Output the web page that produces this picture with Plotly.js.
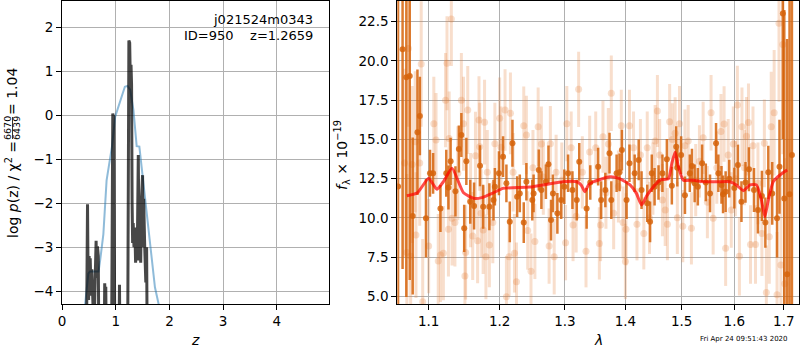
<!DOCTYPE html>
<html><head><meta charset="utf-8">
<script src="https://cdn.plot.ly/plotly-3.0.1.min.js"></script>
<style>body{margin:0;padding:0;background:#fff}#c{width:800px;height:350px}</style>
</head><body><div id="c"></div>
<script>
// ---- left panel: redshift PDF ----
const zPrior = [0.43,0.49,0.52,0.60,0.68,0.71,0.77,0.83,0.93,0.99,1.05,1.11,1.17,1.22,1.27,1.33,1.39,1.44,1.48,1.55,1.61,1.67,1.73,1.80];
const logpPrior = [-4.3,-3.6,-3.55,-3.55,-3.55,-3.3,-2.7,-1.48,-0.71,-0.03,0.2,0.43,0.65,0.67,0.58,0.12,-0.7,-0.71,-1.17,-1.93,-2.69,-3.38,-3.91,-4.3];

const zFit = [0.45,0.475,0.485,0.495,0.505,0.515,0.525,0.54,0.555,0.57,0.595,0.62,0.635,0.645,0.66,0.675,0.69,0.78,0.795,0.805,0.815,0.83,0.92,0.945,0.955,0.965,0.985,1.055,1.07,1.085,1.22,1.245,1.26,1.27,1.285,1.295,1.305,1.315,1.325,1.34,1.355,1.37,1.385,1.40,1.42,1.435,1.45,1.465,1.48,1.50,1.51,1.52,1.54,1.56,1.575,1.59];
const logpFit = [-6,-2.02,-3.6,-4.2,-3.2,-4.1,-3.25,-4.0,-3.5,-4.35,-5,-3.6,-2.85,-3.7,-2.98,-3.2,-6,-6,-3.82,-4.2,-3.9,-6,-6,0.04,-0.02,0.0,-6,-6,-3.85,-6,-6,1.7,1.65,0.9,1.15,0.7,-2.0,-2.9,-2.45,-3.0,-2.55,-3.35,-2.8,-3.3,-0.9,-3.3,-2.2,-3.35,-1.9,-1.36,-3.0,-1.9,-3.0,-3.8,-3.0,-6];

// ---- right panel: spectrum ----
const lamDark = [1.0595,1.0654,1.0703,1.0748,1.0787,1.085,1.0882,1.0964,
1.1018,1.106,1.116,1.124,1.127,1.130,1.1367,1.1415,1.145,1.149,1.152,1.1575,1.163,1.1715,1.176,1.185,1.191,1.193,1.199,1.205,1.21,1.215,1.219,1.226,1.230,1.236,1.240,1.249,1.251,1.259,1.263,1.27,1.274,1.278,1.281,1.288,1.294,1.299,
1.305,1.312,1.319,1.323,1.335,1.341,1.354,1.359,1.366,1.373,1.376,1.385,1.390,1.394,1.402,1.407,1.416,1.423,1.428,1.438,1.443,1.446,1.451,1.458,1.465,1.473,1.482,1.490,1.492,1.499,1.506,1.515,1.519,1.524,1.530,1.538,1.545,1.553,1.5645,1.569,1.575,1.578,1.583,1.590,1.600,1.607,1.614,1.622,1.629,1.639,1.647,1.655,1.662,1.668,1.676,1.686,1.691,1.698,1.701,1.707,1.712,1.717];
const fluxDark = [12.0,20.74,18.96,19.04,10.12,15.45,16.49,9.97,
12.84,12.84,10.6,12.84,11.94,13.6,11.69,14.39,15.28,9.33,13.6,11.03,10.75,13.32,10.71,10.71,11.13,11.98,12.84,13.9,12.2,9.75,14.75,11.35,11.56,9.7,12.3,11.13,11.56,13.05,11.77,12.3,13.41,9.86,11.56,10.29,11.13,11.98,
12.84,11.77,11.13,13.57,10.6,12.26,13.26,11.13,11.77,14.12,11.13,12.84,12.9,14.32,11.13,13.48,12.84,13.69,11.77,10.93,9.75,12.84,11.98,12.26,12.84,13.73,12.05,14.53,13.2,14.0,11.44,12.84,13.3,12.2,11.98,13.48,12.26,11.56,14.75,12.84,12.1,11.5,11.67,12.5,11.9,13.37,11.03,12.26,13.1,11.77,10.5,11.4,9.7,12.9,11.56,9.97,13.26,23.03,11.24,6.4,11.5,14.0];
const errDark = [16,14,14,13,5,4,2.5,2.5,
1.5,1.3,1.5,1.5,1.4,1.5,1.6,1.5,1.4,1.5,1.5,1.4,1.5,1.3,1.4,1.5,1.3,1.2,1.4,1.3,1.2,1.3,1.5,1.3,1.2,1.3,1.2,1.3,1.2,1.3,1.2,1.1,1.2,1.3,1.2,1.3,1.2,1.1,
1.2,1.2,1.3,1.2,1.3,1.1,1.2,1.2,1.1,1.3,1.2,1.2,1.2,1.3,1.2,1.2,1.2,1.3,1.2,1.2,1.3,1.2,1.2,1.1,1.2,1.3,1.2,1.3,1.2,1.2,1.2,1.2,1.1,1.2,1.2,1.2,1.2,1.2,1.3,1.2,1.2,1.2,1.3,1.2,1.3,1.3,1.3,1.3,1.4,1.4,1.5,1.6,1.6,1.7,2.0,2.5,3.0,8,12,15,15,15];

const lamLight = [1.068,1.071,1.073,1.076,1.078,1.082,1.083,1.088,1.090,1.092,1.100,1.107,1.110,1.113,1.116,1.120,1.123,1.125,1.127,1.128,1.131,1.132,1.136,1.140,1.145,1.148,1.150,1.151,1.154,1.158,1.161,1.165,1.168,1.170,1.171,1.173,1.176,1.178,1.180,1.182,1.185,1.190,1.193,1.200,1.202,1.208,1.210,1.214,1.216,1.220,1.222,1.225,1.236,1.240,1.242,1.247,1.250,1.253,1.258,1.263,1.266,1.275,1.277,1.283,1.286,1.295,
1.301,1.303,1.310,1.313,1.318,1.322,1.328,1.334,1.340,1.350,1.356,1.358,1.362,1.367,1.371,1.376,1.380,1.388,1.393,1.396,1.400,1.401,1.407,1.414,1.420,1.426,1.432,1.438,1.442,1.448,1.452,1.456,1.460,1.465,1.470,1.474,1.478,1.483,1.488,1.492,1.496,1.502,1.506,1.512,1.518,1.526,1.533,1.540,1.548,1.555,1.559,1.566,1.574,1.580,1.583,1.588,1.594,1.598,1.602,1.606,1.610,1.615,1.620,1.624,1.628,1.632,1.637,1.642,1.647,1.655,1.660,1.664,1.670,1.674,1.680,1.686,1.690,1.694,1.698,1.702];
const fluxLight = [13.5,7.8,20.8,7.55,13.4,14.85,8.9,13.5,19.8,4.65,8.2,16.0,14.96,7.25,7.63,7.75,17.5,19.85,9.27,15.06,22.67,9.97,9.7,12.84,17.5,16.0,6.3,7.8,16.87,11.13,8.84,13.96,8.54,16.23,14.53,10.3,9.22,16.1,7.52,12.9,8.27,9.7,14.73,16.34,14.5,16.87,4.97,7.52,16.66,12.9,7.74,5.93,15.87,15.28,9.2,6.6,13.2,8.5,15.81,14.7,12.6,8.2,14.73,7.52,12.9,12.4,
8.42,16.0,14.47,9.54,10.1,18.19,12.9,7.87,14.2,14.47,8.37,9.54,15.17,11.6,14.7,17.94,10.3,12.0,15.87,9.7,7.22,9.27,15.87,14.47,9.59,14.0,9.01,14.47,10.0,12.5,14.9,16.81,14.0,11.13,10.5,9.6,16.13,15.0,15.39,10.0,16.0,9.47,14.6,14.9,9.33,12.4,13.6,15.1,11.0,16.7,9.97,13.2,15.5,15.98,8.06,14.0,10.5,14.7,12.5,17.2,7.55,15.8,13.2,15.2,16.07,8.3,14.6,8.3,12.2,9.0,14.75,5.24,8.8,15.81,16.7,5.1,22.4,7.0,21.05,5.8];
const errLight = [6,5,5,5,5,4.5,4,4,4,4,3,3,3,3,3,3,3,3,3,3,3,3,2.8,3,3,3,3,3,2.8,3,2.8,2.8,2.7,2.8,2.8,2.8,2.8,2.7,2.7,2.7,2.7,2.6,2.6,2.6,2.6,2.6,2.6,2.5,2.6,2.5,2.5,2.5,2.5,2.5,2.5,2.4,2.4,2.4,2.5,2.4,2.4,2.4,2.4,2.4,2.4,2.4,
2.4,2.4,2.3,2.3,2.3,2.4,2.3,2.3,2.3,2.3,2.3,2.3,2.3,2.3,2.3,2.4,2.3,2.3,2.3,2.3,2.4,2.3,2.3,2.3,2.3,2.3,2.3,2.3,2.3,2.3,2.3,2.3,2.3,2.3,2.3,2.3,2.4,2.3,2.3,2.3,2.4,2.3,2.3,2.3,2.3,2.3,2.3,2.3,2.3,2.4,2.3,2.3,2.4,2.4,2.4,2.3,2.4,2.4,2.4,2.5,2.5,2.5,2.4,2.5,2.5,2.5,2.5,2.5,2.6,2.7,2.8,3,3,3.5,4,4,5,6,7,8];

const lamModel = [1.071,1.085,1.100,1.111,1.120,1.132,1.148,1.163,1.174,1.191,1.205,1.245,1.297,1.319,1.326,1.332,1.338,1.346,1.374,1.390,1.408,1.419,1.428,1.437,1.449,1.461,1.476,1.482,1.488,1.494,1.503,1.522,1.540,1.570,1.591,1.604,1.618,1.631,1.644,1.654,1.661,1.668,1.678,1.692,1.707];
const fluxModel = [11.41,11.6,12.52,11.82,12.3,13.16,11.6,11.24,11.29,11.6,11.88,11.96,12.3,12.3,12.1,11.67,12.1,12.3,12.62,12.5,12.1,11.56,10.82,11.4,11.98,12.4,12.5,13.48,14.2,13.26,12.4,12.4,12.3,12.3,12.3,12.1,11.73,12.1,12.1,11.13,10.07,11.13,12.3,12.73,13.05];

const zTicks = [0,1,2,3,4];
const logpTicks = [-4,-3,-2,-1,0,1,2];
const lamTicks = [1.1,1.2,1.3,1.4,1.5,1.6,1.7];
const fluxTicks = [5,7.5,10,12.5,15,17.5,20,22.5];

const F = "DejaVu Sans";
const darkC = 'rgba(214,100,12,0.85)';
const lightC = 'rgba(228,125,50,0.25)';

const traces = [
  {x: zPrior, y: logpPrior, xaxis:'x', yaxis:'y', mode:'lines', line:{color:'rgba(31,119,180,0.5)', width:2}, hoverinfo:'none'},
  {x: zFit, y: logpFit, xaxis:'x', yaxis:'y', mode:'lines', line:{color:'rgba(0,0,0,0.72)', width:3}, hoverinfo:'none'},
  {x: lamLight, y: fluxLight, xaxis:'x2', yaxis:'y2', mode:'markers', marker:{color:lightC, size:7},
   error_y:{type:'data', array: errLight, color: lightC, thickness:3, width:0}, hoverinfo:'none'},
  {x: lamDark, y: fluxDark, xaxis:'x2', yaxis:'y2', mode:'markers', marker:{color:darkC, size:6},
   error_y:{type:'data', array: errDark, color: darkC, thickness:2.5, width:0}, hoverinfo:'none'},
  {x: lamModel, y: fluxModel, xaxis:'x2', yaxis:'y2', mode:'lines', line:{color:'rgba(255,0,0,0.7)', width:3, shape:'spline', smoothing:0.5}, hoverinfo:'none'}
];

const ax = {showline:true, mirror:true, linecolor:'black', linewidth:1, ticks:'outside', ticklen:5, tickwidth:1, tickcolor:'black',
  showgrid:true, gridcolor:'#b0b0b0', gridwidth:1, zeroline:false, tickfont:{family:F, size:13.5, color:'black'}};

function px(x){return x/800;}
function py(y){return (304-y)/303;}

const layout = {
  width:800, height:350, showlegend:false,
  margin:{l:0, r:0, t:1, b:46},
  paper_bgcolor:'white', plot_bgcolor:'white',
  font:{family:F, color:'black'},
  xaxis: Object.assign({}, ax, {domain:[62/800, 329/800], range:[0,4.97], tickvals: zTicks, anchor:'y'}),
  yaxis: Object.assign({}, ax, {domain:[0,1], range:[-4.29,2.6], tickvals: logpTicks, anchor:'x'}),
  xaxis2: Object.assign({}, ax, {domain:[397.3/800, 799.3/800], type:'log', range:[0.0247,0.2387], tickvals: lamTicks, ticktext: lamTicks.map(v=>v.toFixed(1)), anchor:'y2'}),
  yaxis2: Object.assign({}, ax, {domain:[0,1], range:[4.51,23.82], tickvals: fluxTicks, ticktext: fluxTicks.map(v=>v.toFixed(1)), anchor:'x2'}),
  shapes:[
    {type:'line', xref:'paper', yref:'paper', x0:px(12.5), x1:px(12.5), y0:py(117), y1:py(139), line:{color:'black', width:0.8}}
  ],
  annotations:[
    {text:'j021524m0343', xref:'paper', yref:'paper', x:px(315), y:py(20), xanchor:'right', yanchor:'middle', showarrow:false, font:{family:F, size:13}},
    {text:'ID=950\u00a0\u00a0\u00a0\u00a0z=1.2659', xref:'paper', yref:'paper', x:px(315), y:py(35), xanchor:'right', yanchor:'middle', showarrow:false, font:{family:F, size:13}},
    {text:'log <i>p</i>(z) / χ<sup>2</sup> =', xref:'paper', yref:'paper', x:px(12), y:py(190), xanchor:'center', yanchor:'middle', textangle:-90, showarrow:false, font:{family:F, size:14}},
    {text:'6670', xref:'paper', yref:'paper', x:px(8), y:py(128), xanchor:'center', yanchor:'middle', textangle:-90, showarrow:false, font:{family:F, size:9.5}},
    {text:'6439', xref:'paper', yref:'paper', x:px(17), y:py(128), xanchor:'center', yanchor:'middle', textangle:-90, showarrow:false, font:{family:F, size:9.5}},
    {text:'= 1.04', xref:'paper', yref:'paper', x:px(12), y:py(92), xanchor:'center', yanchor:'middle', textangle:-90, showarrow:false, font:{family:F, size:14}},
    {text:'<i>z</i>', xref:'paper', yref:'paper', x:px(195), y:py(340), xanchor:'center', yanchor:'middle', showarrow:false, font:{family:F, size:14}},
    {text:'<i>λ</i>', xref:'paper', yref:'paper', x:px(598), y:py(340), xanchor:'center', yanchor:'middle', showarrow:false, font:{family:F, size:14}},
    {text:'<i>f</i><sub>λ</sub> × 10<sup>−19</sup>', xref:'paper', yref:'paper', x:px(342), y:py(155), xanchor:'center', yanchor:'middle', textangle:-90, showarrow:false, font:{family:F, size:14}},
    {text:'Fri Apr 24 09:51:43 2020', xref:'paper', yref:'paper', x:px(790), y:py(339), xanchor:'right', yanchor:'middle', showarrow:false, font:{family:F, size:7}}
  ]
};

Plotly.newPlot('c', traces, layout, {staticPlot:true, displayModeBar:false});
</script></body></html>
